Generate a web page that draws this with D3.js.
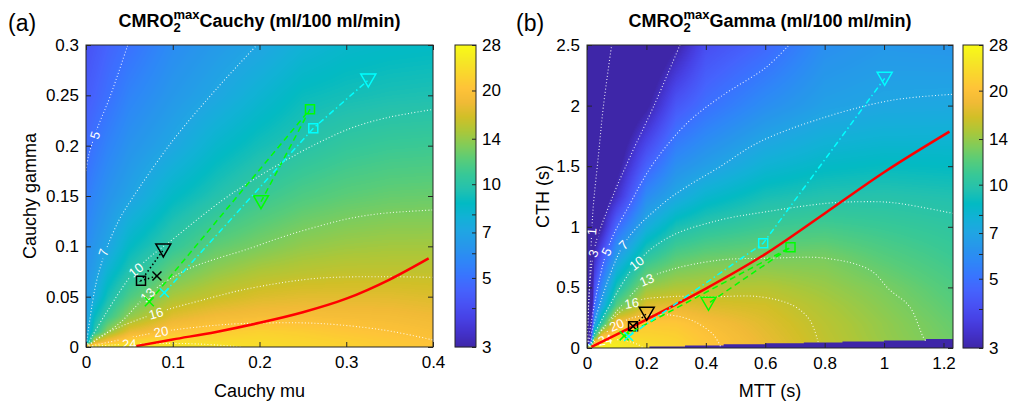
<!DOCTYPE html>
<html>
<head>
<meta charset="utf-8">
<script src="https://cdn.jsdelivr.net/npm/d3@7"></script>
<style>
  body { margin: 0; background: #fff; }
  text { font-family: "Liberation Sans", Arial, Helvetica, sans-serif; }
</style>
</head>
<body>
<svg id="fig" width="1009" height="401"></svg>
<script>
// ---------------- panel (a): Cauchy ----------------
var cauchyMu = [0, 0.01, 0.025, 0.05, 0.1, 0.15, 0.2, 0.25, 0.3, 0.35, 0.4];
var cauchyGamma = [0, 0.005, 0.015, 0.03, 0.05, 0.075, 0.1, 0.15, 0.2, 0.25, 0.3];
// rows follow cauchyGamma, columns follow cauchyMu
var cauchyCmro = [
  [27, 26.5, 26, 25.5, 25, 24.5, 23.5, 22.8, 22, 21.2, 20.6],
  [6.9, 17, 19.5, 22.6, 23.5, 23.3, 23.2, 22.5, 21.8, 21, 20.2],
  [6.8, 9.9, 13.8, 17.8, 20.4, 21.2, 22, 21.5, 20.7, 20.1, 19.4],
  [6.6, 8.8, 10.8, 13.8, 17.4, 18.7, 19.2, 19.3, 19.1, 18.9, 18.4],
  [6.4, 7.4, 9.2, 11.5, 14.7, 16, 17, 17.4, 17.4, 17.4, 17.1],
  [6.2, 6.7, 8.0, 9.7, 12.4, 13.9, 14.9, 15.4, 15.7, 15.7, 15.7],
  [5.9, 6.35, 7.0, 8.6, 10.5, 12.2, 13.05, 13.9, 14.3, 14.5, 14.5],
  [5.3, 5.7, 6.2, 6.9, 8.55, 9.7, 10.8, 11.6, 12.1, 12.4, 12.5],
  [4.8, 5.1, 5.55, 6.2, 7.1, 8.3, 9.2, 9.9, 10.5, 10.8, 10.9],
  [4.4, 4.6, 4.95, 5.57, 6.4, 7.1, 8.0, 8.9, 9.2, 9.4, 9.5],
  [4.1, 4.3, 4.6, 5.0, 5.9, 6.5, 7.0, 7.8, 8.3, 8.5, 8.6]
];
var cauchyLevels = [5, 7, 10, 13, 16, 20, 24];
var cauchyLineMu = [
  [0, 0.0027, 0.0123, 0.0277, 0.0481],
  [0, 0.0115, 0.023, 0.038, 0.052, 0.1, 0.15, 0.197],
  [0, 0.023, 0.0576, 0.1037, 0.1576, 0.189, 0.2274, 0.266, 0.3043, 0.3427, 0.4],
  [0, 0.0384, 0.0711, 0.1153, 0.189, 0.2274, 0.266, 0.3043, 0.3427, 0.4],
  [0, 0.023, 0.0807, 0.1345, 0.189, 0.266, 0.3427, 0.4],
  [0, 0.0384, 0.0865, 0.1537, 0.189, 0.266, 0.3427, 0.4],
  [0, 0.03, 0.08, 0.13, 0.18]
];
var cauchyLineGamma = [
  [0.175, 0.189, 0.2156, 0.2486, 0.3],
  [0, 0.063, 0.096, 0.126, 0.146, 0.205, 0.256, 0.3],
  [0, 0.0335, 0.0765, 0.1096, 0.146, 0.164, 0.184, 0.202, 0.217, 0.227, 0.236],
  [0, 0.0235, 0.0517, 0.0765, 0.098, 0.1096, 0.1195, 0.1278, 0.1328, 0.1361],
  [0, 0.0136, 0.0335, 0.0467, 0.0583, 0.0682, 0.0698, 0.0692],
  [0, 0.007, 0.0152, 0.0219, 0.0235, 0.0235, 0.0169, 0.007],
  [0, 0.002, 0.0035, 0.003, 0]
];
var cauchyLabelMu = [0.0104, 0.02, 0.0576, 0.0711, 0.0807, 0.0865, 0.05];
var cauchyLabelGamma = [0.2103, 0.094, 0.0765, 0.0517, 0.0335, 0.0152, 0.003];
var cauchyRedMu = [0.058, 0.1, 0.15, 0.2, 0.25, 0.3, 0.35, 0.395];
var cauchyRedGamma = [0.001, 0.0075, 0.015, 0.024, 0.0345, 0.048, 0.067, 0.088];
// each series: [cross, square, triangle]
var cauchyMarkMu = [[0.0818, 0.0634, 0.0891], [0.073, 0.2582, 0.2017], [0.0903, 0.262, 0.3254]];
var cauchyMarkGamma = [[0.0705, 0.0659, 0.0964], [0.045, 0.2361, 0.1443], [0.0539, 0.2172, 0.2652]];

// ---------------- panel (b): Gamma ----------------
var gammaMtt = [0, 0.025, 0.05, 0.1, 0.2, 0.3, 0.4, 0.6, 0.8, 1.0, 1.235];
var gammaCth = [0, 0.05, 0.1, 0.2, 0.35, 0.5, 0.75, 1, 1.25, 1.5, 2, 2.5];
// rows follow gammaCth, columns follow gammaMtt
var gammaCmro = [
  [28, 27, 26.5, 26, 24, 22.5, 20.8, 18, 15.8, 14.1, 12.8],
  [1, 19, 24.8, 25, 23.2, 22.3, 20.5, 17.9, 15.7, 14.1, 12.7],
  [1, 10.4, 19.2, 22.8, 22.4, 21.8, 20.3, 17.7, 15.6, 14.0, 12.6],
  [1, 6.5, 10.4, 19.7, 20.9, 20.8, 19.4, 17.3, 15.4, 13.9, 12.4],
  [1, 4.75, 7, 11.9, 17.1, 17.7, 17.0, 16.5, 14.9, 13.5, 12.0],
  [1, 4.1, 5.8, 9.4, 14.0, 14.9, 15.1, 15.2, 14.2, 13.05, 11.6],
  [1, 3.17, 4.2, 6.7, 10.2, 11.9, 12.5, 12.95, 13, 11.9, 10.9],
  [1, 2.6, 3, 4.75, 7.45, 9.35, 10.1, 10.9, 11.2, 10.8, 10.3],
  [1, 2.0, 2.6, 3.3, 5.85, 7.15, 8.2, 9.3, 9.7, 9.8, 9.6],
  [1, 1.8, 2.3, 2.8, 4.56, 6.05, 6.7, 7.95, 8.57, 8.8, 8.7],
  [1, 1.5, 1.9, 2.3, 2.9, 4.27, 4.95, 5.96, 6.8, 7.1, 7.2],
  [1, 1.3, 1.5, 2.0, 2.3, 2.95, 4.0, 4.7, 6.0, 6.4, 6.3]
];
var gammaLevels = [1, 3, 5, 7, 10, 13, 16, 20, 24];
var gammaLineMtt = [
  [0, 0.008, 0.016, 0.0215, 0.038, 0.055, 0.083],
  [0, 0.0215, 0.0774, 0.145, 0.2236, 0.313],
  [0, 0.066, 0.1458, 0.2236, 0.336, 0.448, 0.605, 0.68],
  [0, 0.1225, 0.257, 0.336, 0.448, 0.58, 0.806, 1.03, 1.232],
  [0, 0.167, 0.279, 0.448, 0.605, 0.806, 0.918, 1.03, 1.232],
  [0, 0.201, 0.279, 0.448, 0.605, 0.806, 0.952, 1.019, 1.086, 1.131, 1.14],
  [0, 0.1505, 0.279, 0.426, 0.581, 0.694, 0.75, 0.778],
  [0, 0.1, 0.167, 0.279, 0.36, 0.426, 0.45],
  [0, 0.04, 0.08, 0.13, 0.17, 0.19]
];
var gammaLineCth = [
  [0, 0.5, 0.96, 1.18, 1.578, 1.99, 2.5],
  [0, 0.78, 1.194, 1.578, 1.99, 2.5],
  [0, 0.795, 1.194, 1.524, 1.854, 2.07, 2.32, 2.5],
  [0, 0.85, 1.194, 1.331, 1.496, 1.70, 1.908, 2.046, 2.093],
  [0, 0.70, 0.918, 1.056, 1.125, 1.194, 1.207, 1.199, 1.111],
  [0, 0.561, 0.644, 0.726, 0.74, 0.74, 0.644, 0.479, 0.341, 0.093, 0.06],
  [0, 0.369, 0.423, 0.423, 0.423, 0.35, 0.23, 0.05],
  [0, 0.19, 0.258, 0.272, 0.22, 0.107, 0.01],
  [0, 0.05, 0.07, 0.06, 0.03, 0]
];
var gammaLabelMtt = [0.016, 0.0215, 0.066, 0.1225, 0.167, 0.201, 0.1505, 0.1, 0.061];
var gammaLabelCth = [0.96, 0.78, 0.795, 0.85, 0.70, 0.561, 0.369, 0.19, 0.066];
var gammaRedMtt = [0.015, 0.2, 0.4, 0.6, 0.8, 1.0, 1.22];
var gammaRedCth = [0.01, 0.235, 0.49, 0.775, 1.11, 1.45, 1.785];
var gammaMarkMtt = [[0.155, 0.155, 0.201], [0.125, 0.685, 0.409], [0.14, 0.593, 1.002]];
var gammaMarkCth = [[0.18, 0.18, 0.286], [0.1, 0.831, 0.369], [0.095, 0.864, 2.225]];
// undefined (no solution) strip along the bottom
var gammaVoidMtt = [0.21, 0.33, 0.46, 0.6, 0.73, 0.86, 1.0, 1.14, 1.235];
var gammaVoidCth = [0.012, 0.02, 0.03, 0.039, 0.046, 0.054, 0.062, 0.074, 0.074];

// colorbar
var cbTicks = [3, 4, 5, 6, 7, 8, 10, 14, 20, 28];
var cbLabels = [3, 5, 7, 10, 14, 20, 28];

// parula
var parula = ["#3e26a8", "#4332cb", "#4741e5", "#4852f4", "#4563fd", "#3875fe", "#2e87f7",
  "#2796eb", "#20a5e3", "#12b1d6", "#02bac3", "#24c1ae", "#37c897", "#57cc7a", "#81cc59",
  "#abc739", "#d1bf27", "#f0ba36", "#fec338", "#fad62d", "#f5e924", "#f9fb15"];

var svg = d3.select("#fig");
var axisColor = "#262626";
var tColor = d3.scaleLinear()
    .domain(parula.map(function(d, i) { return i / (parula.length - 1); }))
    .range(parula).clamp(true);
var cLog = d3.scaleLog().domain([3, 28]).range([0, 1]).clamp(true);
var lut = d3.range(256).map(function(i) { return d3.rgb(tColor(i / 255)); });

function zip(a, b) { return a.map(function(d, i) { return [d, b[i]]; }); }

// smooth (interpolated shading) image of the grid
function drawField(g, xs, ys, z, x, y) {
  var x0 = x.range()[0], y0 = y.range()[1];
  var w = Math.round(x.range()[1] - x0), h = Math.round(y.range()[0] - y0);
  var canvas = document.createElement("canvas");
  canvas.width = w; canvas.height = h;
  var ctx = canvas.getContext("2d");
  var img = ctx.createImageData(w, h);
  var lz = z.map(function(r) { return r.map(Math.log); });
  for (var j = 0; j < h; j++) {
    var yv = y.invert(y0 + j + 0.5);
    var iy = Math.max(0, Math.min(ys.length - 2, d3.bisectRight(ys, yv) - 1));
    var ty = Math.max(0, Math.min(1, (yv - ys[iy]) / (ys[iy + 1] - ys[iy])));
    for (var i = 0; i < w; i++) {
      var xv = x.invert(x0 + i + 0.5);
      var ix = Math.max(0, Math.min(xs.length - 2, d3.bisectRight(xs, xv) - 1));
      var tx = Math.max(0, Math.min(1, (xv - xs[ix]) / (xs[ix + 1] - xs[ix])));
      var l = (1 - ty) * ((1 - tx) * lz[iy][ix] + tx * lz[iy][ix + 1]) +
              ty * ((1 - tx) * lz[iy + 1][ix] + tx * lz[iy + 1][ix + 1]);
      var c = lut[Math.round(cLog(Math.exp(l)) * 255)];
      var k = (j * w + i) * 4;
      img.data[k] = c.r; img.data[k + 1] = c.g; img.data[k + 2] = c.b; img.data[k + 3] = 255;
    }
  }
  ctx.putImageData(img, 0, 0);
  g.append("image").attr("x", x0).attr("y", y0).attr("width", w).attr("height", h)
    .attr("preserveAspectRatio", "none").attr("href", canvas.toDataURL());
}

function labelAngle(pts, p) {
  var best = 1e9, ang = 0;
  for (var i = 0; i < pts.length - 1; i++) {
    var mx = (pts[i][0] + pts[i + 1][0]) / 2, my = (pts[i][1] + pts[i + 1][1]) / 2;
    var d = Math.hypot(mx - p[0], my - p[1]);
    if (d < best) { best = d; ang = Math.atan2(pts[i + 1][1] - pts[i][1], pts[i + 1][0] - pts[i][0]) * 180 / Math.PI; }
  }
  if (ang > 90) ang -= 180;
  if (ang < -90) ang += 180;
  return ang;
}

function drawTitle(cx, yb, name) {
  var t = svg.append("text").attr("x", 0).attr("y", yb)
    .attr("font-weight", "bold").attr("font-size", 18).attr("fill", "#000");
  t.append("tspan").text("CMRO");
  var sub = t.append("tspan").attr("font-size", 13).attr("dy", 5).text("2");
  var sup = t.append("tspan").attr("font-size", 13).attr("dy", -13).text("max");
  t.append("tspan").attr("dy", 8).text(name + " (ml/100 ml/min)");
  sup.attr("dx", -sub.node().getComputedTextLength());
  var bb = t.node().getBBox();
  t.attr("x", cx - bb.width / 2);
}

function panel(o) {
  var x = d3.scaleLinear().domain(o.xDomain).range([o.left, o.left + o.width]);
  var y = d3.scaleLinear().domain(o.yDomain).range([o.top + o.height, o.top]);
  var defs = svg.append("defs");
  defs.append("clipPath").attr("id", "clip" + o.id).append("rect")
    .attr("x", o.left).attr("y", o.top).attr("width", o.width).attr("height", o.height);

  var g = svg.append("g").attr("clip-path", "url(#clip" + o.id + ")");
  drawField(g, o.xs, o.ys, o.z, x, y);

  if (o.voidX) {
    var vd = o.voidX.map(function(d, i) { return [d, o.voidY[i]]; });
    g.append("path").datum(vd)
      .attr("d", d3.area().curve(d3.curveStepAfter)
        .x(function(d) { return x(d[0]); }).y0(y(0)).y1(function(d) { return y(d[1]); }))
      .attr("fill", parula[0]);
  }

  // contour lines, broken where the labels sit
  var mask = defs.append("mask").attr("id", "mask" + o.id).attr("maskUnits", "userSpaceOnUse")
    .attr("x", 0).attr("y", 0).attr("width", 1009).attr("height", 401);
  mask.append("rect").attr("width", 1009).attr("height", 401).attr("fill", "#fff");
  var cg = g.append("g").attr("mask", "url(#mask" + o.id + ")");
  var line = d3.line().curve(d3.curveCatmullRom.alpha(0.5))
    .x(function(d) { return x(d[0]); }).y(function(d) { return y(d[1]); });
  o.levels.forEach(function(lev, i) {
    var pts = zip(o.lineX[i], o.lineY[i]);
    cg.append("path").attr("d", line(pts)).attr("fill", "none")
      .attr("stroke", "#fff").attr("stroke-opacity", 0.85)
      .attr("stroke-width", 1.1).attr("stroke-dasharray", "1,2.2");
    var px = pts.map(function(d) { return [x(d[0]), y(d[1])]; });
    var lp = [x(o.labelX[i]), y(o.labelY[i])];
    var ang = labelAngle(px, lp);
    var lw = String(lev).length * 8 + 4;
    mask.append("rect").attr("x", -lw / 2).attr("y", -7).attr("width", lw).attr("height", 14)
      .attr("fill", "#000")
      .attr("transform", "translate(" + lp[0] + "," + lp[1] + ") rotate(" + ang + ")");
    g.append("text").text(lev)
      .attr("transform", "translate(" + lp[0] + "," + lp[1] + ") rotate(" + ang + ")")
      .attr("text-anchor", "middle").attr("dy", "0.35em")
      .attr("font-size", 13).attr("fill", "#fff");
  });

  // red optimum curve
  g.append("path").datum(zip(o.redX, o.redY))
    .attr("d", d3.line().curve(d3.curveMonotoneX)
      .x(function(d) { return x(d[0]); }).y(function(d) { return y(d[1]); }))
    .attr("fill", "none").attr("stroke", "#ff0000").attr("stroke-width", 2.5);

  // marker series
  var styles = [
    { color: "#000", dash: "1.5,2.5" },
    { color: "#00ff00", dash: "6,4" },
    { color: "#00ffff", dash: "6,3,1.5,3" }
  ];
  var shapes = ["M-4.5,-4.5L4.5,4.5M-4.5,4.5L4.5,-4.5",
                "M-4.5,-4.5H4.5V4.5H-4.5Z",
                "M-7.5,-6H7.5L0,7Z"];
  o.markX.forEach(function(mx, s) {
    var pts = zip(mx, o.markY[s]);
    g.append("path").datum(pts)
      .attr("d", d3.line().x(function(d) { return x(d[0]); }).y(function(d) { return y(d[1]); }))
      .attr("fill", "none").attr("stroke", styles[s].color)
      .attr("stroke-width", 1.5).attr("stroke-dasharray", styles[s].dash);
    g.selectAll(null).data(pts).enter().append("path")
      .attr("transform", function(d) { return "translate(" + x(d[0]) + "," + y(d[1]) + ")"; })
      .attr("d", function(d, k) { return shapes[k]; })
      .attr("fill", "none").attr("stroke", styles[s].color).attr("stroke-width", 1.5);
  });

  // axes (ticks inside, mirrored)
  function styleAxis(a) {
    a.attr("font-family", null).attr("font-size", 17);
    a.selectAll("line").attr("stroke", axisColor);
    a.selectAll("path").remove();
    a.selectAll("text").attr("fill", "#000");
  }
  var fmt = function(d) { return String(+d.toFixed(2)); };
  svg.append("g").attr("transform", "translate(0," + (o.top + o.height) + ")")
    .call(d3.axisBottom(x).tickValues(o.xTicks).tickSize(-5).tickPadding(9).tickFormat(fmt))
    .call(styleAxis);
  svg.append("g").attr("transform", "translate(0," + o.top + ")")
    .call(d3.axisTop(x).tickValues(o.xTicks).tickSize(-5).tickFormat(""))
    .call(styleAxis);
  svg.append("g").attr("transform", "translate(" + o.left + ",0)")
    .call(d3.axisLeft(y).tickValues(o.yTicks).tickSize(-5).tickPadding(7).tickFormat(fmt))
    .call(styleAxis);
  svg.append("g").attr("transform", "translate(" + (o.left + o.width) + ",0)")
    .call(d3.axisRight(y).tickValues(o.yTicks).tickSize(-5).tickFormat(""))
    .call(styleAxis);
  svg.append("rect").attr("x", o.left).attr("y", o.top).attr("width", o.width).attr("height", o.height)
    .attr("fill", "none").attr("stroke", axisColor).attr("stroke-width", 1);

  svg.append("text").text(o.xLabel)
    .attr("x", o.left + o.width / 2).attr("y", 397)
    .attr("text-anchor", "middle").attr("font-size", 18);
  svg.append("text").text(o.yLabel)
    .attr("transform", "translate(" + o.yLabelX + "," + (o.top + o.height / 2) + ") rotate(-90)")
    .attr("text-anchor", "middle").attr("font-size", 18);
  svg.append("text").text(o.letter).attr("x", o.letterX).attr("y", 31).attr("font-size", 23);
  drawTitle(o.left + o.width / 2, 27, o.name);

  // colorbar
  var cb = d3.scaleLog().domain([3, 28]).range([o.top + o.height, o.top]);
  var cg2 = svg.append("g");
  cg2.selectAll("rect").data(d3.range(o.top, o.top + o.height)).enter().append("rect")
    .attr("x", o.cbLeft).attr("y", function(d) { return d; })
    .attr("width", o.cbWidth).attr("height", 1.2)
    .attr("fill", function(d) { return tColor(cLog(cb.invert(d + 0.5))); });
  svg.append("g").attr("transform", "translate(" + (o.cbLeft + o.cbWidth) + ",0)")
    .call(d3.axisRight(cb).tickValues(cbTicks).tickSize(-4).tickPadding(6)
      .tickFormat(function(d) { return cbLabels.indexOf(d) >= 0 ? d : ""; }))
    .call(styleAxis);
  svg.append("rect").attr("x", o.cbLeft).attr("y", o.top).attr("width", o.cbWidth).attr("height", o.height)
    .attr("fill", "none").attr("stroke", axisColor).attr("stroke-width", 1);
}

panel({
  id: "a", left: 86, top: 45, width: 347, height: 302,
  xDomain: [0, 0.4], yDomain: [0, 0.3],
  xs: cauchyMu, ys: cauchyGamma, z: cauchyCmro,
  levels: cauchyLevels, lineX: cauchyLineMu, lineY: cauchyLineGamma,
  labelX: cauchyLabelMu, labelY: cauchyLabelGamma,
  redX: cauchyRedMu, redY: cauchyRedGamma,
  markX: cauchyMarkMu, markY: cauchyMarkGamma,
  xTicks: [0, 0.1, 0.2, 0.3, 0.4], yTicks: [0, 0.05, 0.1, 0.15, 0.2, 0.25, 0.3],
  xLabel: "Cauchy mu", yLabel: "Cauchy gamma", yLabelX: 36,
  letter: "(a)", letterX: 8, name: "Cauchy",
  cbLeft: 455, cbWidth: 21
});

panel({
  id: "b", left: 587, top: 45, width: 366, height: 303,
  xDomain: [0, 1.232], yDomain: [0, 2.5],
  xs: gammaMtt, ys: gammaCth, z: gammaCmro,
  voidX: gammaVoidMtt, voidY: gammaVoidCth,
  levels: gammaLevels, lineX: gammaLineMtt, lineY: gammaLineCth,
  labelX: gammaLabelMtt, labelY: gammaLabelCth,
  redX: gammaRedMtt, redY: gammaRedCth,
  markX: gammaMarkMtt, markY: gammaMarkCth,
  xTicks: [0, 0.2, 0.4, 0.6, 0.8, 1, 1.2], yTicks: [0, 0.5, 1, 1.5, 2, 2.5],
  xLabel: "MTT (s)", yLabel: "CTH (s)", yLabelX: 549,
  letter: "(b)", letterX: 516, name: "Gamma",
  cbLeft: 963, cbWidth: 20
});
</script>
</body>
</html>
